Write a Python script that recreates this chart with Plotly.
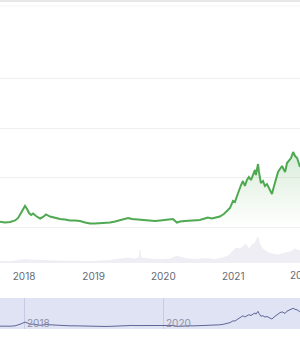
import pandas as pd
import plotly.graph_objects as go

# ---- data ----
price_dates = [
    "2017-08-28", "2017-09-23", "2017-10-20", "2017-11-15", "2017-12-01", "2017-12-16",
    "2017-12-27", "2018-01-06", "2018-01-17", "2018-01-27", "2018-02-07", "2018-02-17",
    "2018-03-05", "2018-03-26", "2018-04-11", "2018-04-26", "2018-05-17", "2018-06-12",
    "2018-07-09", "2018-08-04", "2018-08-30", "2018-09-25", "2018-10-21", "2018-11-17",
    "2018-12-13", "2019-01-08", "2019-02-03", "2019-03-01", "2019-03-28", "2019-04-23",
    "2019-05-19", "2019-06-14", "2019-06-30", "2019-07-21", "2019-08-11", "2019-09-01",
    "2019-09-27", "2019-10-23", "2019-11-18", "2019-12-15", "2020-01-10", "2020-02-05",
    "2020-02-20", "2020-03-12", "2020-03-28", "2020-04-23", "2020-05-19", "2020-06-14",
    "2020-07-10", "2020-08-05", "2020-08-21", "2020-09-11", "2020-09-27", "2020-10-23",
    "2020-11-13", "2020-11-29", "2020-12-15", "2020-12-31", "2021-01-10", "2021-01-21",
    "2021-01-31", "2021-02-11", "2021-02-21", "2021-03-03", "2021-03-14", "2021-03-24",
    "2021-04-04", "2021-04-15", "2021-04-25", "2021-04-30", "2021-05-11", "2021-05-16",
    "2021-05-26", "2021-06-06", "2021-06-16", "2021-06-27", "2021-07-07", "2021-07-18",
    "2021-07-23", "2021-08-03", "2021-08-13", "2021-08-24", "2021-09-03", "2021-09-14",
    "2021-09-24", "2021-09-30", "2021-10-10", "2021-10-21", "2021-10-31", "2021-11-11",
    "2021-11-21", "2021-12-02", "2021-12-12", "2021-12-17",
]
price_usd = [
    4900, 4100, 4600, 6000, 8300, 12800,
    16500, 19300, 16500, 12800, 11000, 12400,
    10100, 7800, 9200, 11500, 9600, 8300,
    7300, 6900, 6000, 6000, 5500, 4100,
    3200, 3200, 3400, 3700, 4100, 5000,
    6000, 7300, 8300, 7300, 6900, 6900,
    6000, 5700, 5500, 6000, 6400, 6900,
    7300, 4100, 5000, 5500, 6000, 6000,
    6400, 7800, 8700, 7800, 8300, 9600,
    11900, 14700, 17400, 23900, 22900, 28400,
    33900, 38500, 42200, 37600, 43100, 45900,
    43100, 48600, 52300, 47700, 57800, 50500,
    40400, 42200, 37600, 39400, 35800, 32100,
    30300, 37600, 43100, 50500, 53200, 56000,
    52300, 50500, 58700, 61500, 63300, 68800,
    65100, 63300, 58700, 55000,
]

volume_dates = [
    "2017-08-28", "2017-10-20", "2017-12-01", "2018-01-06", "2018-02-07", "2018-03-26",
    "2018-05-17", "2018-07-09", "2018-08-30", "2018-10-21", "2018-12-13", "2019-02-03",
    "2019-03-28", "2019-04-23", "2019-05-19", "2019-06-30", "2019-08-06", "2019-08-27",
    "2019-09-01", "2019-09-06", "2019-10-23", "2019-12-15", "2020-02-05", "2020-03-12",
    "2020-04-23", "2020-06-14", "2020-08-05", "2020-09-27", "2020-11-03", "2020-12-05",
    "2020-12-31", "2021-01-16", "2021-02-06", "2021-02-21", "2021-03-08", "2021-03-24",
    "2021-04-10", "2021-04-25", "2021-05-06", "2021-05-11", "2021-05-22", "2021-06-06",
    "2021-06-27", "2021-07-23", "2021-08-24", "2021-09-24", "2021-10-26", "2021-11-21",
    "2021-12-17",
]
volume_busd = [
    6, 6, 10, 14, 12, 10,
    8, 8, 8, 6, 6, 8,
    10, 14, 16, 20, 16, 24,
    52, 20, 16, 14, 16, 28,
    18, 14, 18, 14, 20, 28,
    48, 60, 56, 68, 76, 56,
    72, 80, 96, 104, 72, 56,
    44, 36, 32, 40, 44, 56,
    48,
]

axis_tick_dates = ["2018-01-01", "2019-01-01", "2020-01-01", "2021-01-01"]
axis_tick_labels = ["2018", "2019", "2020", "2021"]
cut_tick_date = "2022-01-01"
cut_tick_label = "2022"
nav_tick_dates = ["2018-01-01", "2020-01-01"]
nav_tick_labels = ["2018", "2020"]
price_grid_values = [0, 45300, 90600, 135900]

# ---- layout helpers ----
W, H = 300, 350


def py(px):
    return 1 - px / H


x_start = pd.Timestamp(price_dates[0])
x_end = pd.Timestamp(price_dates[-1])

FONT = "Inter, Roboto, sans-serif"

fig = go.Figure()

# volume area (base axis so it sits under the price line)
fig.add_trace(go.Scatter(
    x=volume_dates, y=volume_busd, xaxis="x", yaxis="y",
    mode="lines", line=dict(width=0.5, color="#e9e9f1"),
    fill="tozeroy", fillcolor="#eeeef4", hoverinfo="skip",
))

# price line with gradient fill
fig.add_trace(go.Scatter(
    x=price_dates, y=price_usd, xaxis="x", yaxis="y2",
    mode="lines", line=dict(color="#4fa951", width=2),
    fill="tozeroy",
    fillgradient=dict(
        type="vertical", start=0, stop=max(price_usd),
        colorscale=[[0, "rgba(79,169,81,0)"], [1, "rgba(79,169,81,0.22)"]],
    ),
))

# navigator line
fig.add_trace(go.Scatter(
    x=price_dates, y=price_usd, xaxis="x2", yaxis="y3",
    mode="lines", line=dict(color="#5f6597", width=1),
))

cut_frac = (pd.Timestamp(cut_tick_date) - x_start) / (x_end - x_start)

annotations = [
    dict(x=d, y=py(322.5), xref="x2", yref="paper", text=t, showarrow=False,
         xanchor="left", yanchor="middle", xshift=1,
         font=dict(family=FONT, size=10, color="#8e90a6"))
    for d, t in zip(nav_tick_dates, nav_tick_labels)
]
annotations.append(dict(
    x=cut_frac, y=py(275), xref="paper", yref="paper", text=cut_tick_label,
    showarrow=False, xanchor="center", yanchor="middle",
    font=dict(family=FONT, size=10, color="#666a73"),
))

shapes = [
    dict(type="rect", xref="paper", yref="paper", x0=0, x1=1, y0=py(329), y1=py(298),
         fillcolor="#dfe3f4", line=dict(width=0), layer="below"),
    dict(type="line", xref="paper", yref="paper", x0=0, x1=1, y0=py(1), y1=py(1),
         line=dict(color="#e8e8e8", width=2), layer="below"),
    dict(type="line", xref="paper", yref="paper", x0=0, x1=1, y0=py(6), y1=py(6),
         line=dict(color="#f3f3f3", width=1), layer="below"),
]

fig.update_layout(
    width=W, height=H,
    margin=dict(l=0, r=0, t=0, b=0),
    paper_bgcolor="white", plot_bgcolor="rgba(0,0,0,0)",
    showlegend=False,
    font=dict(family=FONT),
    xaxis=dict(
        domain=[0, 1], anchor="y", type="date", range=[x_start, x_end],
        tickvals=axis_tick_dates, ticktext=axis_tick_labels,
        showgrid=False, zeroline=False, showline=False, ticks="",
        tickfont=dict(family=FONT, size=10, color="#666a73"),
        ticklabelstandoff=6,
    ),
    yaxis=dict(
        domain=[py(263), py(6)], range=[0, 257 * 4], visible=False,
        showgrid=False, zeroline=False,
    ),
    yaxis2=dict(
        domain=[py(263), py(6)], overlaying="y", anchor="x",
        range=[-33030, 202750], tickvals=price_grid_values,
        showgrid=True, gridcolor="#efefef", gridwidth=1,
        showticklabels=False, zeroline=False, showline=False, ticks="",
    ),
    xaxis2=dict(
        domain=[0, 1], anchor="y3", type="date", range=[x_start, x_end],
        tickvals=nav_tick_dates, showticklabels=False,
        showgrid=True, gridcolor="#c7cbe3", gridwidth=1,
        zeroline=False, showline=False, ticks="",
    ),
    yaxis3=dict(
        domain=[py(329), py(298)], range=[-5400, 105700],
        visible=False, showgrid=False, zeroline=False,
    ),
    annotations=annotations,
    shapes=shapes,
)

fig.write_html("out.html", config={"displayModeBar": False})
